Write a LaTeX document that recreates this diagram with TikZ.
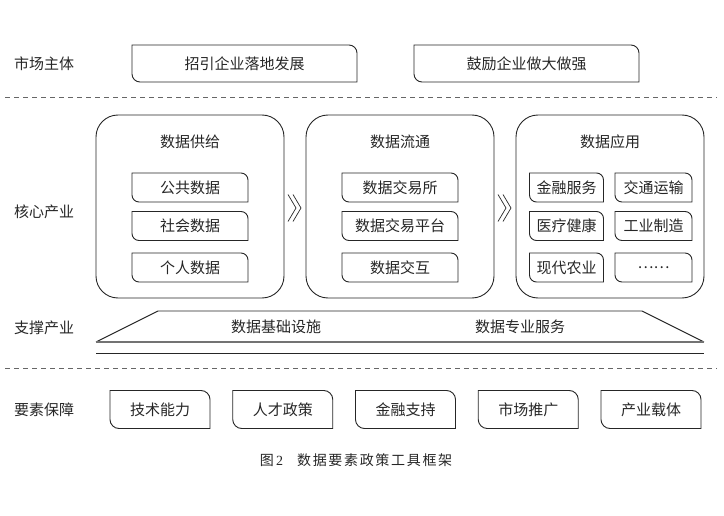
\documentclass[tikz,border=0pt]{standalone}
\usepackage{fontspec}
\setmainfont{Noto Sans CJK SC}
\newfontfamily\capfont[LetterSpace=12]{Noto Sans CJK SC}
\newfontfamily\numfont{Liberation Serif}
\usetikzlibrary{positioning,calc}
\tikzset{
lbl/.style={font=\fontsize{15}{18}\selectfont,text=black!85,inner sep=0pt},
tag/.style={lbl,minimum height=29pt,outer sep=0pt},
big/.style={draw,rounded corners=22pt,minimum width=188pt,minimum height=183pt,outer sep=0pt},
sep/.style={black!60,dash pattern=on 5pt off 4pt,line width=0.8pt}
}
\newcommand\diagbox[2]{%
\draw (#1.north west) -- ([xshift=-#2]#1.north east) arc[start angle=90,end angle=0,radius=#2]
-- (#1.south east) -- ([xshift=#2]#1.south west) arc[start angle=270,end angle=180,radius=#2] -- cycle;}
\begin{document}
\begin{tikzpicture}[x=1pt,y=-1pt,line width=0.9pt,draw=black!85]
\useasboundingbox (0,0) rectangle (724,516);
\node[lbl] (l1) at (44,64) {市场主体};
\node[lbl] (l2) at (44,212) {核心产业};
\node[lbl] (l3) at (44,328) {支撑产业};
\node[lbl] (l4) at (44,410) {要素保障};

\node[tag,minimum width=225pt,minimum height=37pt] (m1) at (244.5,63.5) {招引企业落地发展};
\node[tag,minimum width=225pt,minimum height=37pt,right=57pt of m1] (m2) {鼓励企业做大做强};
\foreach \n in {m1,m2} {\diagbox{\n}{8pt}}
\draw[sep] (5,97) -- (717,97);

\node[big] (c1) at (190,206.5) {};
\node[big,right=22pt of c1] (c2) {};
\node[big,right=22pt of c2] (c3) {};
\node[lbl] (t1) at ([yshift=-27pt]c1.north) {数据供给};
\node[lbl] (t2) at ([yshift=-27pt]c2.north) {数据流通};
\node[lbl] (t3) at ([yshift=-27pt]c3.north) {数据应用};

\node[tag,minimum width=116pt] (a1) at (190,187.5) {公共数据};
\node[tag,minimum width=116pt,below=9.5pt of a1] (a2) {社会数据};
\node[tag,minimum width=116pt,below=12.5pt of a2] (a3) {个人数据};
\node[tag,minimum width=116pt] (b1) at (400,187.5) {数据交易所};
\node[tag,minimum width=116pt,below=9.5pt of b1] (b2) {数据交易平台};
\node[tag,minimum width=116pt,below=12.5pt of b2] (b3) {数据交互};
\node[tag,minimum width=74pt] (d1) at (566.5,187.5) {金融服务};
\node[tag,minimum width=74pt,below=9.5pt of d1] (d2) {医疗健康};
\node[tag,minimum width=74pt,below=12.5pt of d2] (d3) {现代农业};
\node[tag,minimum width=77pt] (e1) at (653.5,187.5) {交通运输};
\node[tag,minimum width=77pt,below=9.5pt of e1] (e2) {工业制造};
\node[tag,minimum width=77pt,below=12.5pt of e2] (e3) {……};
\foreach \n in {a1,a2,a3,b1,b2,b3,d1,d2,d3,e1,e2,e3} {\diagbox{\n}{7pt}}

\foreach \u/\v in {c1/c2,c2/c3} {
\coordinate (k) at ($(\u.east)!0.5!(\v.west)+(0pt,-1.5pt)$);
\draw[line width=0.7pt] ([shift={(-7pt,13.5pt)}]k) -- ([shift={(1pt,0pt)}]k) -- ([shift={(-7pt,-13.5pt)}]k);
\draw[line width=0.7pt] ([shift={(-2pt,13.5pt)}]k) -- ([shift={(6pt,0pt)}]k) -- ([shift={(-2pt,-13.5pt)}]k);
}

\node[lbl] (s1) at (276,327) {数据基础设施};
\node[lbl] (s2) at (520,327) {数据专业服务};
\draw (96,342) -- (158,311) -- (642,311) -- (704,342);
\draw[black!55,line width=1.6pt] (96,342) -- (704,342);
\draw (96,353) -- (704,353);
\draw[sep] (5,368) -- (717,368);

\node[tag,minimum width=100pt,minimum height=38pt] (f1) at (160,409.5) {技术能力};
\node[tag,minimum width=100pt,minimum height=38pt,right=22.75pt of f1] (f2) {人才政策};
\node[tag,minimum width=100pt,minimum height=38pt,right=22.75pt of f2] (f3) {金融支持};
\node[tag,minimum width=100pt,minimum height=38pt,right=22.75pt of f3] (f4) {市场推广};
\node[tag,minimum width=100pt,minimum height=38pt,right=22.75pt of f4] (f5) {产业载体};
\foreach \n in {f1,f2,f3,f4,f5} {\diagbox{\n}{9pt}}

\node[font=\fontsize{14}{16}\selectfont,text=black!85] (cap) at (356,460) {\capfont 图\,\numfont 2\quad\capfont 数据要素政策工具框架};
\end{tikzpicture}
\end{document}
